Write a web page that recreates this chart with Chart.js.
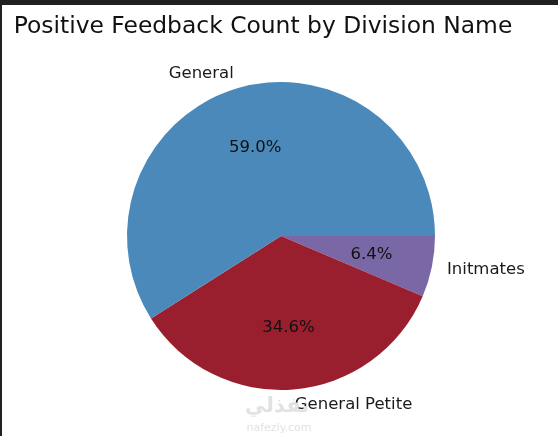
<!DOCTYPE html>
<html>
<head>
<meta charset="utf-8">
<script src="https://cdn.jsdelivr.net/npm/chart.js@4/dist/chart.umd.min.js"></script>
<style>
  body { margin: 0; background: #fff; }
  #wrap { position: relative; width: 558px; height: 436px; overflow: hidden; }
  #pie { position: absolute; left: 0; top: 0; }
  /* dark frame of the screenshot */
  .edgeTop { position: absolute; left: 0; top: 0; width: 558px; height: 5px; background: #202020; }
  .edgeLeft { position: absolute; left: 0; top: 0; width: 2px; height: 436px; background: #202020; }
</style>
</head>
<body>
<div id="wrap">
  <canvas id="pie" width="558" height="436"></canvas>
  <div class="edgeTop"></div>
  <div class="edgeLeft"></div>
</div>
<script>
// Data (counter-clockwise from 3 o'clock, like matplotlib)
const categories = ['General', 'General Petite', 'Initmates'];
const shares = [59.0, 34.6, 6.4];
const sliceColors = ['#4a89b9', '#9a1f2e', '#7a68a6'];
const chartTitle = 'Positive Feedback Count by Division Name';

// Chart.js goes clockwise, so feed the slices in reverse order
const labelsCw = categories.slice().reverse();
const valuesCw = shares.slice().reverse();
const colorsCw = sliceColors.slice().reverse();
const total = shares.reduce((a, b) => a + b, 0);

const FONT = '"DejaVu Sans", sans-serif';

// draws title, outer labels and the percentages
const pieText = {
  id: 'pieText',
  afterDraw(chart) {
    const ctx = chart.ctx;
    const meta = chart.getDatasetMeta(0);
    ctx.save();
    ctx.fillStyle = '#111';
    ctx.font = '23.4px ' + FONT;
    ctx.textAlign = 'center';
    ctx.textBaseline = 'alphabetic';
    ctx.fillText(chartTitle, 263, 33);

    ctx.textBaseline = 'middle';
    meta.data.forEach((arc, i) => {
      const p = arc.getProps(['x', 'y', 'startAngle', 'endAngle', 'outerRadius'], true);
      const mid = (p.startAngle + p.endAngle) / 2;
      const c = Math.cos(mid), s = Math.sin(mid);
      ctx.font = '16.5px ' + FONT;
      ctx.fillStyle = '#1a1a1a';
      ctx.textAlign = c >= 0 ? 'left' : 'right';
      ctx.fillText(labelsCw[i], p.x + c * p.outerRadius * 1.1, p.y + s * p.outerRadius * 1.1);
      ctx.textAlign = 'center';
      ctx.fillStyle = '#111';
      const pct = (valuesCw[i] / total * 100).toFixed(1) + '%';
      ctx.fillText(pct, p.x + c * p.outerRadius * 0.6, p.y + s * p.outerRadius * 0.6);
    });

    // faint watermark
    ctx.fillStyle = '#e2e2e2';
    ctx.font = 'bold 21px ' + FONT;
    ctx.fillText('نفذلي', 277, 407);
    ctx.font = '11px ' + FONT;
    ctx.fillText('nafezly.com', 279, 428);
    ctx.restore();
  }
};

new Chart(document.getElementById('pie'), {
  type: 'pie',
  plugins: [pieText],
  data: {
    labels: labelsCw,
    datasets: [{
      data: valuesCw,
      backgroundColor: colorsCw,
      borderWidth: 0
    }]
  },
  options: {
    responsive: false,
    animation: false,
    rotation: 90,
    layout: { padding: { top: 82, bottom: 46, left: 104, right: 100 } },
    plugins: {
      legend: { display: false },
      title: { display: false },
      tooltip: { enabled: false }
    }
  }
});
</script>
</body>
</html>
